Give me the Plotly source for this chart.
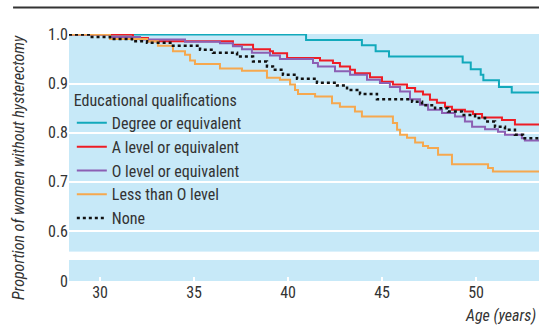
import plotly.graph_objects as go

# ---- data (ages in years, proportion without hysterectomy) ----
degree_age = [28.35, 40.96, 43.93, 44.66, 45.37, 49.29, 49.72, 50.25, 50.39, 51.22, 51.90, 53.35]
degree_val = [1.0, 0.989, 0.978, 0.966, 0.955, 0.943, 0.929, 0.918, 0.907, 0.893, 0.882, 0.882]

alevel_age = [28.35, 31.75, 32.55, 37.07, 38.14, 39.04, 39.20, 39.95, 41.70, 42.39, 42.76, 43.30,
              43.56, 44.36, 45.00, 45.58, 46.33, 46.76, 47.18, 47.55, 47.92, 48.35, 48.72, 49.41,
              49.84, 50.32, 51.38, 52.07, 53.35]
alevel_val = [1.0, 0.993, 0.986, 0.979, 0.970, 0.966, 0.962, 0.952, 0.947, 0.942, 0.935, 0.928,
              0.921, 0.913, 0.904, 0.898, 0.891, 0.884, 0.878, 0.867, 0.861, 0.853, 0.847, 0.843,
              0.838, 0.831, 0.826, 0.817, 0.817]

olevel_age = [28.35, 30.53, 32.13, 34.52, 36.38, 37.07, 37.55, 38.08, 39.04, 39.57, 41.33, 41.59,
              42.50, 43.30, 44.20, 44.89, 45.42, 45.96, 46.49, 47.02, 47.45, 48.19, 48.88, 49.41,
              49.79, 50.48, 51.17, 51.54, 52.44, 52.60, 53.35]
olevel_val = [1.0, 0.995, 0.990, 0.985, 0.982, 0.976, 0.970, 0.963, 0.957, 0.950, 0.942, 0.935,
              0.925, 0.918, 0.908, 0.901, 0.893, 0.884, 0.868, 0.857, 0.847, 0.840, 0.833, 0.823,
              0.812, 0.807, 0.802, 0.796, 0.789, 0.784, 0.784]

less_age = [28.35, 30.53, 32.50, 33.08, 33.88, 34.52, 34.79, 35.05, 36.38, 37.55, 38.88, 39.57,
            40.11, 40.37, 40.53, 41.44, 42.34, 42.76, 43.56, 43.93, 45.58, 45.80, 45.96, 46.33,
            46.76, 47.18, 47.45, 47.98, 48.72, 50.64, 50.90, 53.35]
less_val = [1.0, 0.991, 0.986, 0.977, 0.966, 0.959, 0.947, 0.940, 0.931, 0.926, 0.912, 0.908,
            0.898, 0.887, 0.879, 0.874, 0.860, 0.853, 0.843, 0.833, 0.820, 0.806, 0.796, 0.790,
            0.780, 0.773, 0.769, 0.755, 0.736, 0.728, 0.721, 0.721]

none_age = [28.35, 29.47, 30.53, 31.70, 32.50, 33.88, 35.32, 36.01, 37.29, 38.14, 38.88, 39.20,
            39.73, 40.48, 41.54, 42.61, 43.14, 43.83, 44.73, 46.60, 47.13, 47.82, 48.51, 49.25,
            49.95, 50.48, 51.01, 51.54, 52.07, 52.50, 53.35]
none_val = [1.0, 0.995, 0.991, 0.986, 0.983, 0.977, 0.969, 0.963, 0.955, 0.945, 0.935, 0.928,
            0.918, 0.910, 0.902, 0.896, 0.887, 0.879, 0.868, 0.863, 0.856, 0.850, 0.843, 0.836,
            0.830, 0.823, 0.812, 0.806, 0.796, 0.789, 0.789]

series_names = ["Degree or equivalent", "A level or equivalent", "O level or equivalent",
                "Less than O level", "None"]
x_ticks = [30, 35, 40, 45, 50]
y_ticks = [0.6, 0.7, 0.8, 0.9, 1.0]
y_ticktext = ["0.6", "0.7", "0.8", "0.9", "1.0"]

FONT = "Liberation Sans Narrow, Arial Narrow, Roboto Condensed, Liberation Sans, sans-serif"
BG = "#c7e9f8"
TXT = "#333333"

styles = [
    dict(color="#12a9bb", width=2, dash="solid"),
    dict(color="#ee1c25", width=2, dash="solid"),
    dict(color="#8c5fb3", width=2, dash="solid"),
    dict(color="#f6a84e", width=2, dash="solid"),
    dict(color="#111111", width=2.5, dash="dot"),
]
data = [(degree_age, degree_val), (alevel_age, alevel_val), (olevel_age, olevel_val),
        (less_age, less_val), (none_age, none_val)]

fig = go.Figure()
for name, (xs, ys), st in zip(series_names, data, styles):
    fig.add_trace(go.Scatter(x=xs, y=ys, mode="lines", name=name, line=dict(shape="hv", **st),
                             xaxis="x", yaxis="y"))
# empty trace to materialise the lower (broken-axis) panel
fig.add_trace(go.Scatter(x=[], y=[], xaxis="x", yaxis="y2", showlegend=False, hoverinfo="skip"))

fig.update_layout(
    width=539, height=325,
    margin=dict(l=69, r=0, t=34, b=44),
    paper_bgcolor="white", plot_bgcolor=BG,
    font=dict(family=FONT, size=16, color=TXT),
    showlegend=True,
    legend=dict(
        x=0.006, y=0.793, xanchor="left", yanchor="top",
        bgcolor="rgba(0,0,0,0)",
        title=dict(text="Educational qualifications", font=dict(size=16, color=TXT)),
        font=dict(size=16, color=TXT),
        itemwidth=30, tracegroupgap=0,
    ),
    xaxis=dict(
        range=[28.35, 53.35], anchor="y2", domain=[0, 1],
        tickvals=x_ticks, ticks="inside", ticklen=4, tickwidth=2, tickcolor="white",
        showgrid=False, zeroline=False, showline=False,
        tickfont=dict(size=16, color=TXT),
    ),
    yaxis=dict(
        domain=[0.119, 1], range=[0.558, 1.001], anchor="x",
        tickvals=y_ticks, ticktext=y_ticktext,
        showgrid=True, gridcolor="white", gridwidth=2,
        zeroline=False, showline=False, ticks="",
        tickfont=dict(size=16, color=TXT),
    ),
    yaxis2=dict(
        domain=[0, 0.085], range=[0, 0.043], anchor="x",
        tickvals=[0], ticktext=["0"],
        showgrid=False, zeroline=False, showline=False, ticks="",
        tickfont=dict(size=16, color=TXT),
    ),
)

# top rule
fig.add_shape(type="line", xref="paper", yref="paper", x0=-0.119, x1=1, y0=1.107, y1=1.107,
              line=dict(color=TXT, width=2))

fig.add_annotation(text="<i>Proportion of women without hysterectomy</i>", xref="paper", yref="paper",
                   x=(18 - 69) / 470, y=(281 - 168) / 247, textangle=-90, showarrow=False,
                   xanchor="center", yanchor="middle", font=dict(size=16, color=TXT))
fig.add_annotation(text="<i>Age (years)</i>", xref="paper", yref="paper",
                   x=0.997, y=(281 - 315) / 247, showarrow=False,
                   xanchor="right", yanchor="middle", font=dict(size=16, color=TXT))

# remove the default page margin so the 539x325 figure fills the window exactly
fig.write_html("out.html", config={"displayModeBar": False},
               post_script="document.body.style.margin='0';document.body.style.overflow='hidden';")
